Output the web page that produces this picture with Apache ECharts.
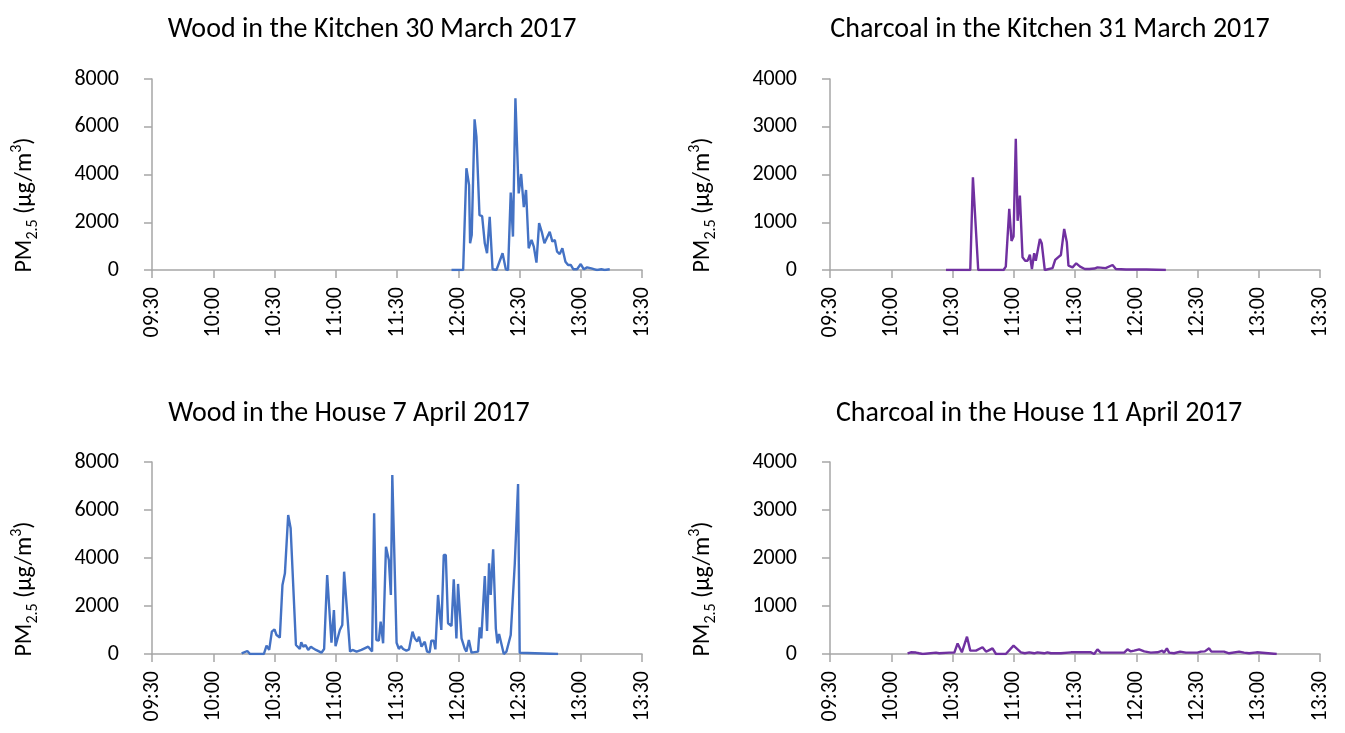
<!DOCTYPE html>
<html>
<head>
<meta charset="utf-8">
<script src="https://cdn.jsdelivr.net/npm/echarts@6/dist/echarts.min.js"></script>
<style>
  html, body { margin: 0; padding: 0; background: #fff; }
  #main { width: 1345px; height: 733px; }
</style>
</head>
<body>
<div id="main"></div>
<script>
// 时间用从零点起的分钟数表示
var xTicks = ['09:30', '10:00', '10:30', '11:00', '11:30', '12:00', '12:30', '13:00', '13:30'];

// Wood in the Kitchen 30 March 2017
var woodKitchenT = [716.7, 722.4, 724.0, 725.3, 725.8, 726.6, 728.0, 728.9, 730.4, 731.7, 733.0, 734.1, 735.4, 736.8, 738.7,
    741.7, 743.3, 744.4, 745.7, 746.8, 748.0, 749.6, 750.8, 752.1, 753.2, 754.5, 755.9, 757.0, 758.3, 759.6, 760.9, 762.2,
    763.1, 764.8, 766.1, 767.3, 768.4, 769.7, 771.0, 772.5, 773.8, 775.1, 776.4, 778.2, 780.0, 781.5, 783.1, 785.2, 786.8,
    788.0, 790.1, 791.7, 794.2];
var woodKitchenV = [0, 0, 4260, 3560, 1120, 1470, 6310, 5590, 2300, 2260, 1120, 700, 2230, 30, 0,
    700, 30, 0, 3240, 1400, 7190, 3210, 4020, 2630, 3350, 910, 1260, 980, 310, 1960, 1600, 1120,
    1100, 1600, 1190, 1260, 770, 670, 910, 350, 210, 210, 30, 30, 250, 30, 110, 70, 30,
    0, 30, 0, 30];

// Charcoal in the Kitchen 31 March 2017
var charKitchenT = [626.8, 638.7, 640.0, 642.6, 655.0, 656.1, 657.8, 658.9, 659.9, 661.0, 661.9, 663.0, 664.3, 665.6, 666.8,
    667.9, 668.9, 670.0, 670.8, 672.8, 673.7, 675.2, 679.0, 680.3, 681.7, 683.1, 684.7, 686.0, 686.8, 688.8, 690.6, 692.5,
    694.8, 697.0, 699.5, 701.0, 705.0, 708.4, 710.0, 715.0, 725.0, 734.5];
var charKitchenV = [0, 0, 1940, 0, 0, 70, 1280, 610, 700, 2750, 1030, 1560, 265, 195, 195,
    320, 20, 350, 195, 650, 560, 0, 40, 210, 265, 315, 860, 580, 90, 55, 140, 70,
    20, 20, 30, 55, 40, 105, 20, 10, 10, 0];

// Wood in the House 7 April 2017
var woodHouseT = [613.9, 616.7, 618.0, 624.8, 626.1, 627.4, 628.7, 630.0, 631.0, 632.6, 633.9, 635.1, 636.7, 637.9, 640.5,
    642.4, 643.1, 644.1, 645.2, 646.5, 647.8, 648.9, 650.3, 653.0, 654.3, 655.8, 657.9, 659.1, 659.9, 662.0, 663.2, 664.1,
    667.0, 668.2, 670.2, 672.6, 675.9, 677.8, 678.8, 679.9, 681.1, 682.0, 683.2, 684.6, 686.0, 687.0, 687.7, 689.8, 690.9,
    691.9, 693.0, 694.6, 695.9, 697.6, 698.7, 699.9, 700.8, 702.0, 703.6, 704.7, 706.0, 706.8, 708.0, 708.8, 710.1, 711.7,
    712.9, 713.9, 715.0, 716.7, 717.8, 719.1, 719.9, 721.6, 723.2, 724.0, 725.2, 726.5, 729.7, 730.5, 731.3, 733.0, 734.1,
    735.1, 735.9, 737.1, 738.4, 739.2, 740.0, 742.3, 743.6, 745.7, 747.7, 749.3, 750.1, 750.9, 768.9];
var woodHouseV = [30, 125, 0, 0, 350, 170, 930, 1030, 790, 680, 2880, 3360, 5790, 5240, 375,
    210, 490, 305, 375, 170, 305, 240, 170, 55, 210, 3290, 470, 1830, 330, 1000, 1210, 3430,
    100, 170, 100, 170, 305, 100, 5860, 580, 555, 1350, 445, 4470, 3920, 2460, 7460, 470, 210,
    330, 210, 140, 195, 930, 650, 515, 720, 305, 515, 100, 70, 555, 555, 195, 2460, 1000,
    4125, 4125, 1280, 1170, 3110, 650, 2920, 650, 210, 100, 580, 55, 100, 1110, 650, 3250, 960,
    3780, 2460, 4360, 1070, 445, 830, 0, 100, 790, 3780, 7080, 55, 0, 0];

// Charcoal in the House 11 April 2017
var charHouseT = [608.0, 609.6, 612.1, 613.7, 615.4, 621.9, 623.5, 628.4, 630.9, 632.5, 634.6, 637.1, 638.7, 641.5, 644.7,
    646.4, 647.5, 649.6, 651.3, 656.1, 659.9, 663.5, 665.4, 667.6, 670.0, 671.6, 674.9, 676.5, 678.2, 683.1, 688.0, 697.8,
    699.4, 701.0, 702.6, 714.1, 715.7, 717.3, 719.0, 721.4, 723.9, 727.1, 730.4, 732.8, 733.6, 735.0, 736.1, 738.5, 741.5,
    744.3, 747.5, 750.0, 751.6, 753.6, 755.7, 756.8, 758.9, 763.0, 765.5, 770.4, 772.8, 775.3, 779.0, 779.3, 788.8];
var charHouseV = [15, 35, 30, 15, 0, 28, 15, 28, 28, 220, 35, 360, 70, 70, 140,
    50, 70, 118, 0, 0, 175, 35, 15, 35, 15, 35, 15, 35, 15, 15, 35, 35,
    0, 97, 28, 28, 97, 55, 70, 97, 55, 28, 35, 70, 28, 118, 28, 15, 50,
    28, 28, 28, 50, 55, 118, 50, 50, 50, 15, 50, 28, 15, 35, 0, 0];

var fontFamily = 'Carlito, Lato, sans-serif';
var textColor = '#000';
var axisColor = '#a6a6a6';

function pairs(t, v) {
    var d = [];
    for (var i = 0; i < t.length; i++) {
        d.push([t[i], v[i]]);
    }
    return d;
}

function fmtTime(m) {
    var h = Math.floor(m / 60);
    var mm = Math.round(m % 60);
    return (h < 10 ? '0' : '') + h + ':' + (mm < 10 ? '0' : '') + mm;
}

var grids = [
    { left: 152, top: 79, width: 490, height: 191 },
    { left: 830, top: 79, width: 490, height: 191 },
    { left: 152, top: 462, width: 490, height: 192 },
    { left: 830, top: 462, width: 490, height: 192 }
];
var yMax = [8000, 4000, 8000, 4000];
var yStep = [2000, 1000, 2000, 1000];
var titles = [
    { text: 'Wood in the Kitchen 30 March 2017', x: 367, y: 11 },
    { text: 'Charcoal in the Kitchen 31 March 2017', x: 1045, y: 11 },
    { text: 'Wood in the House 7 April 2017', x: 344, y: 395 },
    { text: 'Charcoal in the House 11 April 2017', x: 1034, y: 395 }
];
// y轴标题的位置（中心点）
var yNamePos = [[25, 205], [703, 205], [25, 589], [703, 589]];
var seriesData = [
    pairs(woodKitchenT, woodKitchenV),
    pairs(charKitchenT, charKitchenV),
    pairs(woodHouseT, woodHouseV),
    pairs(charHouseT, charHouseV)
];
var colors = ['#4472C4', '#7030A0', '#4472C4', '#7030A0'];

var xAxes = [], yAxes = [], series = [], titleList = [], graphics = [];
for (var i = 0; i < 4; i++) {
    titleList.push({
        text: titles[i].text,
        left: titles[i].x,
        top: titles[i].y,
        textAlign: 'center',
        textStyle: { fontFamily: fontFamily, fontSize: 28, fontWeight: 'normal', color: textColor }
    });
    xAxes.push({
        type: 'value',
        gridIndex: i,
        min: 570,
        max: 810,
        interval: 30,
        splitLine: { show: false },
        axisLine: { lineStyle: { color: axisColor, width: 1.5 } },
        axisTick: { show: true, length: 8, lineStyle: { color: axisColor, width: 1.5 } },
        axisLabel: {
            rotate: 90,
            margin: 17,
            fontFamily: fontFamily,
            fontSize: 22,
            color: textColor,
            formatter: function (v) { return fmtTime(v); }
        }
    });
    yAxes.push({
        type: 'value',
        gridIndex: i,
        min: 0,
        max: yMax[i],
        interval: yStep[i],
        splitLine: { show: false },
        axisLine: { show: true, lineStyle: { color: axisColor, width: 1.5 } },
        axisTick: { show: true, length: 8, lineStyle: { color: axisColor, width: 1.5 } },
        axisLabel: {
            margin: 33,
            fontFamily: fontFamily,
            fontSize: 22,
            color: textColor,
            formatter: function (v) { return String(v); }
        }
    });
    series.push({
        type: 'line',
        xAxisIndex: i,
        yAxisIndex: i,
        data: seriesData[i],
        showSymbol: false,
        symbol: 'none',
        lineStyle: { color: colors[i], width: 2.4 },
        itemStyle: { color: colors[i] },
        animation: false
    });
    graphics.push({
        type: 'text',
        x: yNamePos[i][0],
        y: yNamePos[i][1],
        rotation: Math.PI / 2,
        style: {
            text: '{b|PM}{sub|2.5}{b| (µg/m}{sup|3}{b|)}',
            align: 'center',
            verticalAlign: 'middle',
            rich: {
                b: { fontFamily: fontFamily, fontSize: 24, fill: textColor, lineHeight: 32 },
                sub: { fontFamily: fontFamily, fontSize: 16, fill: textColor, lineHeight: 17, verticalAlign: 'bottom' },
                sup: { fontFamily: fontFamily, fontSize: 16, fill: textColor, lineHeight: 17, verticalAlign: 'top' }
            }
        }
    });
}

var myChart = echarts.init(document.getElementById('main'));
myChart.setOption({
    backgroundColor: '#fff',
    animation: false,
    title: titleList,
    grid: grids,
    xAxis: xAxes,
    yAxis: yAxes,
    series: series,
    graphic: graphics
});
</script>
</body>
</html>
